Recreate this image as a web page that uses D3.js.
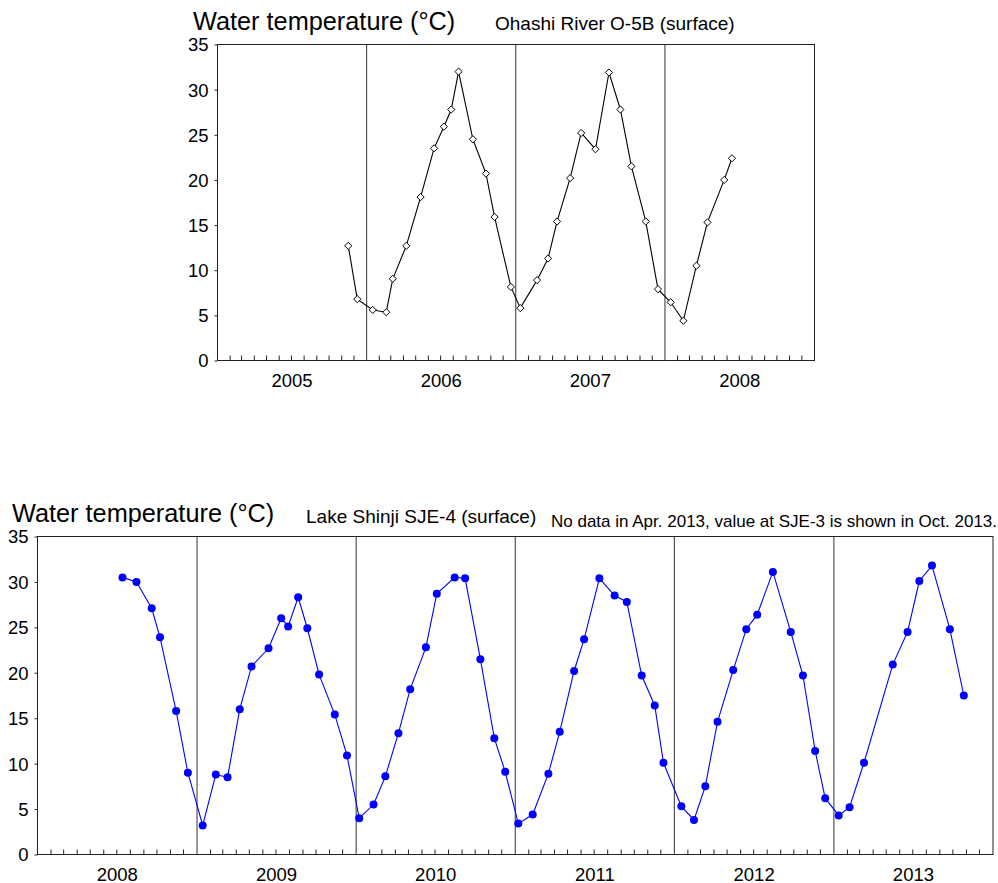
<!DOCTYPE html>
<html><head><meta charset="utf-8">
<script src="https://cdn.jsdelivr.net/npm/d3@7"></script>
<style>body{margin:0;background:#fff}svg{display:block}text{font-family:"Liberation Sans",Arial,sans-serif;fill:#000}</style>
</head><body>
<svg id="c" width="998" height="883"></svg>
<script>
// ---- data ----
const yTicks = [0,5,10,15,20,25,30,35];

const ohashiYears = ["2005","2006","2007","2008"];
const ohashiDates = ["2005-11-17","2005-12-09","2006-01-16","2006-02-18","2006-03-06","2006-04-08","2006-05-13","2006-06-15","2006-07-09","2006-07-27","2006-08-14","2006-09-18","2006-10-20","2006-11-10","2006-12-20","2007-01-12","2007-02-22","2007-03-21","2007-04-12","2007-05-14","2007-06-10","2007-07-15","2007-08-17","2007-09-14","2007-10-11","2007-11-15","2007-12-15","2008-01-15","2008-02-15","2008-03-18","2008-04-14","2008-05-25","2008-06-13"];
const ohashiTemps = [12.7,6.8,5.6,5.35,9.05,12.7,18.1,23.5,25.9,27.8,32.0,24.5,20.7,15.9,8.15,5.8,8.9,11.3,15.4,20.2,25.2,23.4,31.9,27.8,21.5,15.4,7.9,6.45,4.4,10.5,15.3,20.0,22.4];

const shinjiYears = ["2008","2009","2010","2011","2012","2013"];
const shinjiDates = ["2008-07-14","2008-08-15","2008-09-19","2008-10-08","2008-11-14","2008-12-11",
  "2009-01-14","2009-02-13","2009-03-12","2009-04-09","2009-05-06","2009-06-14","2009-07-13","2009-07-29","2009-08-21","2009-09-11","2009-10-08","2009-11-13","2009-12-11",
  "2010-01-08","2010-02-10","2010-03-09","2010-04-08","2010-05-05","2010-06-10","2010-07-05","2010-08-15","2010-09-08","2010-10-13","2010-11-14","2010-12-09",
  "2011-01-08","2011-02-10","2011-03-18","2011-04-13","2011-05-16","2011-06-08","2011-07-13","2011-08-17","2011-09-14","2011-10-18","2011-11-17","2011-12-07",
  "2012-01-17","2012-02-15","2012-03-12","2012-04-09","2012-05-15","2012-06-14","2012-07-09","2012-08-14","2012-09-24","2012-10-22","2012-11-19","2012-12-12",
  "2013-01-12","2013-02-06","2013-03-11","2013-05-16","2013-06-19","2013-07-16","2013-08-14","2013-09-24","2013-10-26"];
const shinjiTemps = [30.5,30.0,27.1,23.9,15.8,9.0,
  3.2,8.8,8.5,16.0,20.7,22.7,26.0,25.1,28.3,24.9,19.8,15.4,10.9,
  4.0,5.5,8.6,13.35,18.2,22.8,28.7,30.5,30.4,21.5,12.8,9.1,
  3.4,4.4,8.9,13.5,20.2,23.7,30.4,28.5,27.8,19.7,16.4,10.1,
  5.3,3.8,7.5,14.6,20.3,24.8,26.4,31.1,24.5,19.7,11.4,6.2,
  4.3,5.2,10.1,20.9,24.5,30.1,31.8,24.8,17.5];

const parse = d3.utcParse("%Y-%m-%d");
const svg = d3.select("#c");

function panel(o){
  const g = svg.append("g");
  const start = new Date(Date.UTC(+o.years[0],0,1));
  const end = new Date(Date.UTC(+o.years[o.years.length-1]+1,0,1));
  const x = d3.scaleUtc().domain([start,end]).range([o.left,o.right]);
  const y = d3.scaleLinear().domain([0,35]).range([o.bottom,o.top]);

  // frame
  g.append("rect").attr("x",o.left).attr("y",o.top).attr("width",o.right-o.left).attr("height",o.bottom-o.top)
    .attr("fill","none").attr("stroke","#222").attr("stroke-width",1);

  // year separators
  const yearStarts = d3.utcYear.range(d3.utcYear.offset(start,1), end);
  g.selectAll(".sep").data(yearStarts).join("line")
    .attr("x1",d=>x(d)).attr("x2",d=>x(d)).attr("y1",o.top).attr("y2",o.bottom)
    .attr("stroke","#333").attr("stroke-width",1);

  // month ticks (inside)
  const months = d3.utcMonth.range(d3.utcMonth.offset(start,1), end).filter(d=>d.getUTCMonth()!==0);
  g.selectAll(".mt").data(months).join("line")
    .attr("x1",d=>x(d)).attr("x2",d=>x(d)).attr("y1",o.bottom).attr("y2",o.bottom-5)
    .attr("stroke","#222").attr("stroke-width",1);

  // y axis
  const ya = d3.axisLeft(y).tickValues(yTicks).tickSize(3).tickPadding(6);
  const yg = g.append("g").attr("transform",`translate(${o.left},0)`).call(ya);
  yg.select(".domain").remove();
  yg.selectAll("line").attr("stroke","#222");
  yg.selectAll("text").style("font-size","18.5px").attr("fill","#111").attr("dy","0.35em");

  // year labels
  g.selectAll(".yl").data(o.years).join("text")
    .attr("x",d=>(x(new Date(Date.UTC(+d,0,1)))+x(new Date(Date.UTC(+d+1,0,1))))/2)
    .attr("y",o.bottom+26).attr("text-anchor","middle").style("font-size","18.5px").attr("fill","#111")
    .text(d=>d);

  // line
  const pts = o.dates.map((d,i)=>({d:parse(d),v:o.temps[i]}));
  g.append("path").datum(pts).attr("fill","none").attr("stroke",o.lineColor).attr("stroke-width",1.1)
    .attr("d",d3.line().x(p=>x(p.d)).y(p=>y(p.v)));

  // markers
  if(o.marker==="diamond"){
    g.selectAll(".m").data(pts).join("path")
      .attr("transform",p=>`translate(${x(p.d)},${y(p.v)})`)
      .attr("d","M0,-3.6L3.6,0L0,3.6L-3.6,0Z")
      .attr("fill","#fff").attr("stroke","#000").attr("stroke-width",1);
  } else {
    g.selectAll(".m").data(pts).join("circle")
      .attr("cx",p=>x(p.d)).attr("cy",p=>y(p.v)).attr("r",4)
      .attr("fill","#0000ff");
  }

  // titles
  o.texts.forEach(t=>{
    g.append("text").attr("x",t.x).attr("y",t.y).style("font-size",t.size+"px").text(t.s);
  });
}

panel({years:ohashiYears,dates:ohashiDates,temps:ohashiTemps,left:217.5,right:814.5,top:44.5,bottom:360.5,
  lineColor:"#000",marker:"diamond",
  texts:[{x:193,y:30,size:25.3,s:"Water temperature (°C)"},{x:495,y:30,size:19,s:"Ohashi River O-5B (surface)"}]});

panel({years:shinjiYears,dates:shinjiDates,temps:shinjiTemps,left:37.5,right:993,top:536.5,bottom:854.5,
  lineColor:"#0000ff",marker:"circle",
  texts:[{x:12,y:522,size:25.3,s:"Water temperature (°C)"},{x:306,y:523,size:19,s:"Lake Shinji SJE-4 (surface)"},
         {x:551,y:527,size:17,s:"No data in Apr. 2013, value at SJE-3 is shown in Oct. 2013."}]});
</script>
</body></html>
